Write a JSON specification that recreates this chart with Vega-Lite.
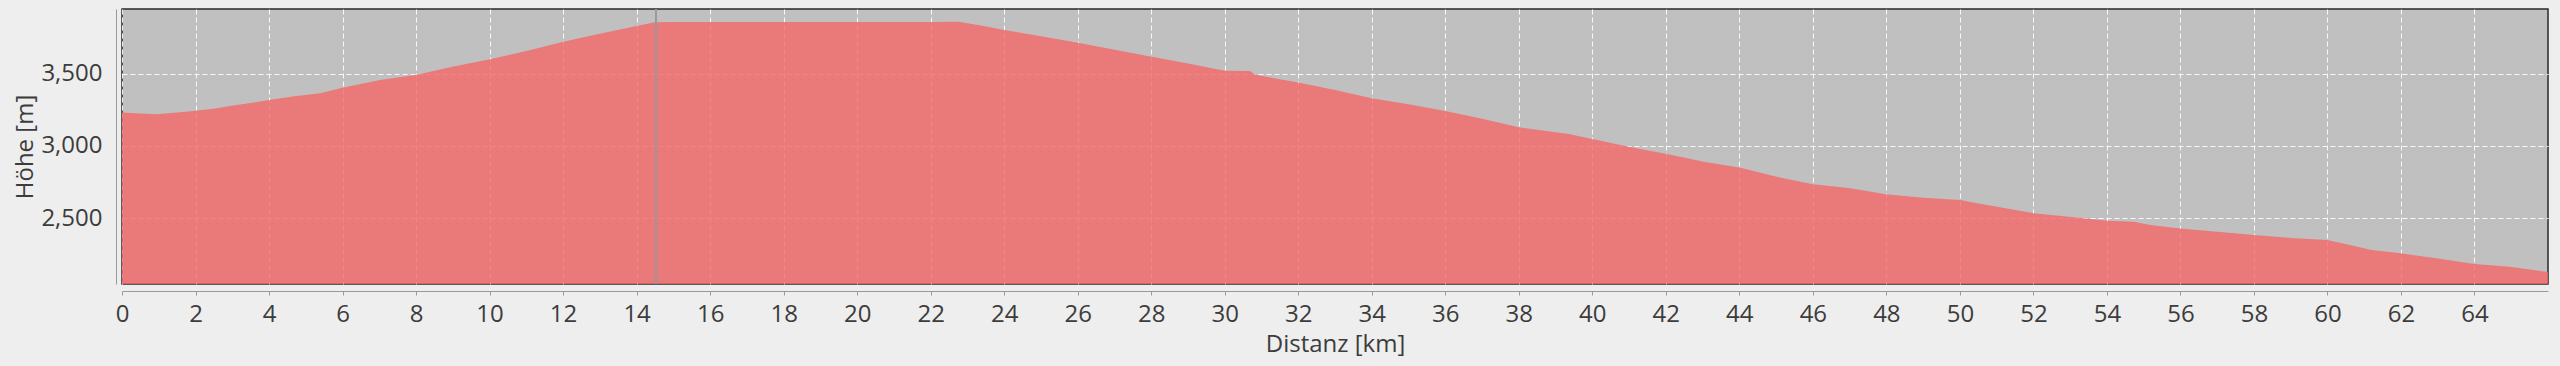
{
  "$schema": "https://vega.github.io/schema/vega-lite/v6.json",
  "width": 2426,
  "height": 275,
  "autosize": "none",
  "padding": {"left": 122, "top": 9, "right": 12, "bottom": 82},
  "background": "#eeeeee",
  "config": {
    "view": {"fill": "#c0c0c0", "stroke": "#2a2a2a", "strokeWidth": 1.5},
    "axis": {
      "labelFont": "Open Sans",
      "titleFont": "Open Sans",
      "labelFontSize": 24,
      "titleFontSize": 24,
      "titleFontWeight": "normal",
      "labelColor": "#3c3c3c",
      "titleColor": "#3c3c3c",
      "domainColor": "#999999",
      "tickColor": "#999999",
      "gridColor": "#ffffff",
      "gridDash": [5, 3],
      "gridOpacity": 0.9
    }
  },
  "data": {
    "values": [
      {"km": 0, "h": 3232}, {"km": 0.5, "h": 3226}, {"km": 0.94, "h": 3220},
      {"km": 1.5, "h": 3232}, {"km": 1.94, "h": 3243}, {"km": 2.5, "h": 3258},
      {"km": 2.94, "h": 3278}, {"km": 3.5, "h": 3298}, {"km": 4.0, "h": 3319},
      {"km": 4.7, "h": 3345}, {"km": 5.39, "h": 3366}, {"km": 6.0, "h": 3405},
      {"km": 7.02, "h": 3458}, {"km": 8.02, "h": 3495}, {"km": 9.02, "h": 3551},
      {"km": 10.01, "h": 3602}, {"km": 11.0, "h": 3660}, {"km": 12.01, "h": 3724},
      {"km": 13.0, "h": 3780}, {"km": 14.0, "h": 3833}, {"km": 14.5, "h": 3859},
      {"km": 15.0, "h": 3861}, {"km": 18.0, "h": 3861}, {"km": 22.0, "h": 3861},
      {"km": 22.76, "h": 3863}, {"km": 23.44, "h": 3833}, {"km": 24.0, "h": 3806},
      {"km": 25.0, "h": 3762}, {"km": 26.01, "h": 3717}, {"km": 27.0, "h": 3668},
      {"km": 28.01, "h": 3620}, {"km": 29.0, "h": 3572}, {"km": 30.0, "h": 3523},
      {"km": 30.69, "h": 3521}, {"km": 30.83, "h": 3495}, {"km": 32.0, "h": 3440},
      {"km": 33.0, "h": 3389}, {"km": 34.0, "h": 3331}, {"km": 35.0, "h": 3290},
      {"km": 36.0, "h": 3243}, {"km": 37.0, "h": 3190}, {"km": 38.0, "h": 3130},
      {"km": 39.36, "h": 3083}, {"km": 40.03, "h": 3046}, {"km": 40.99, "h": 2995},
      {"km": 42.03, "h": 2944}, {"km": 43.07, "h": 2889}, {"km": 44.03, "h": 2849},
      {"km": 45.1, "h": 2782}, {"km": 46.0, "h": 2734}, {"km": 47.02, "h": 2706},
      {"km": 47.98, "h": 2665}, {"km": 49.0, "h": 2641}, {"km": 50.0, "h": 2625},
      {"km": 50.47, "h": 2602}, {"km": 52.01, "h": 2533}, {"km": 53.1, "h": 2505},
      {"km": 54.0, "h": 2481}, {"km": 54.73, "h": 2474}, {"km": 55.18, "h": 2451},
      {"km": 56.0, "h": 2428}, {"km": 57.0, "h": 2405}, {"km": 58.0, "h": 2382},
      {"km": 59.0, "h": 2362}, {"km": 59.99, "h": 2347}, {"km": 60.49, "h": 2319},
      {"km": 61.2, "h": 2278}, {"km": 61.99, "h": 2255}, {"km": 62.95, "h": 2220},
      {"km": 64.0, "h": 2181}, {"km": 64.95, "h": 2162}, {"km": 65.5, "h": 2142},
      {"km": 66.0, "h": 2126}
    ]
  },
  "layer": [
    {
      "mark": {"type": "area", "color": "#f46666", "opacity": 0.8, "clip": true},
      "encoding": {
        "x": {
          "field": "km", "type": "quantitative",
          "scale": {"domain": [0, 66], "nice": false},
          "axis": {
            "title": "Distanz [km]",
            "values": [0,2,4,6,8,10,12,14,16,18,20,22,24,26,28,30,32,34,36,38,40,42,44,46,48,50,52,54,56,58,60,62,64],
            "offset": 7, "tickSize": 4, "labelPadding": 7, "titlePadding": 6,
            "labelFlush": false
          }
        },
        "y": {
          "field": "h", "type": "quantitative",
          "scale": {"domain": [2042, 3951], "nice": false, "zero": false},
          "axis": {
            "title": "Höhe [m]",
            "values": [2500, 3000, 3500],
            "format": ",d",
            "offset": 6, "ticks": false, "labelPadding": 14, "titlePadding": 3
          }
        }
      }
    },
    {
      "mark": {"type": "rule", "color": "#999999", "strokeWidth": 1},
      "encoding": {"x": {"datum": 14.52}}
    }
  ]
}
